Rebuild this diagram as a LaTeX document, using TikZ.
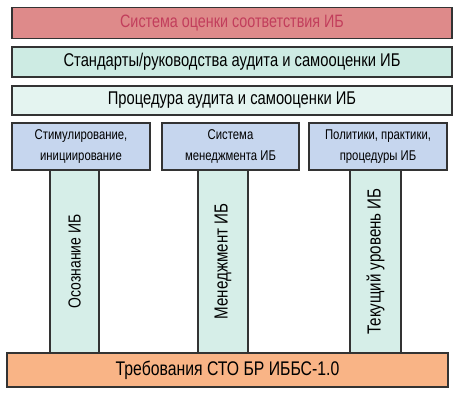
\documentclass[tikz,border=0pt]{standalone}
\usepackage{fontspec}
\setmainfont[FakeStretch=0.8]{Liberation Sans}
\definecolor{ramka}{HTML}{333333}
\definecolor{krasn}{HTML}{DE8A8A}
\definecolor{krasntxt}{HTML}{C23E5C}
\definecolor{biruz}{HTML}{CDEBE3}
\definecolor{biruzsv}{HTML}{E4F4F0}
\definecolor{goluboy}{HTML}{C6D6EE}
\definecolor{stolb}{HTML}{D6EEE8}
\definecolor{oranzh}{HTML}{F9B486}
\tikzset{
	uroven/.style={draw=ramka, line width=1.2bp, minimum width=440bp, inner sep=0pt, font=\fontsize{18.5}{20}\selectfont},
	blok/.style={draw=ramka, line width=1.2bp, fill=goluboy, minimum width=137bp, minimum height=47bp,
		inner sep=0pt, align=center, font=\fontsize{14.2}{21}\selectfont},
	opora/.style={draw=ramka, line width=1.2bp, fill=stolb, minimum height=183bp, inner sep=0pt,
		font=\fontsize{19}{20}\selectfont}
}
\begin{document}
\begin{tikzpicture}[x=1bp,y=-1bp]
	\useasboundingbox (0,0) rectangle (462,405);
	% verkhnie urovni
	\node[uroven, fill=krasn, minimum height=31bp, text=krasntxt, font=\fontsize{18}{20}\selectfont] (ocenka) at (232,23) {Система оценки соответствия ИБ};
	\node[uroven, fill=biruz, minimum height=30bp] (standarty) at (232,62) {Стандарты/руководства аудита и самооценки ИБ};
	\node[uroven, fill=biruzsv, minimum height=29bp] (procedura) at (232,100.5) {Процедура аудита и самооценки ИБ};
	% stolby
	\node[opora, minimum width=49bp, font=\fontsize{17.5}{20}\selectfont] (osozn) at (74.5,261.5) {\rotatebox{90}{Осознание ИБ}};
	\node[opora, minimum width=50bp] (menedzh) at (223,261.5) {\rotatebox{90}{Менеджмент ИБ}};
	\node[opora, minimum width=51bp] (tekush) at (375.5,261.5) {\rotatebox{90}{Текущий уровень ИБ}};
	% bloki
	\node[blok, minimum width=138bp] (stimul) at (81,146.5) {Стимулирование,\\инициирование};
	\node[blok] (sistema) at (230.5,146.5) {Система\\менеджмента ИБ};
	\node[blok, minimum width=138bp] (politiki) at (378,146.5) {Политики, практики,\\процедуры ИБ};
	% osnovanie
	\node[uroven, fill=oranzh, minimum width=441bp, minimum height=34bp, font=\fontsize{19.8}{20}\selectfont] (trebov) at (227.5,370) {Требования СТО БР ИББС-1.0};
\end{tikzpicture}
\end{document}
